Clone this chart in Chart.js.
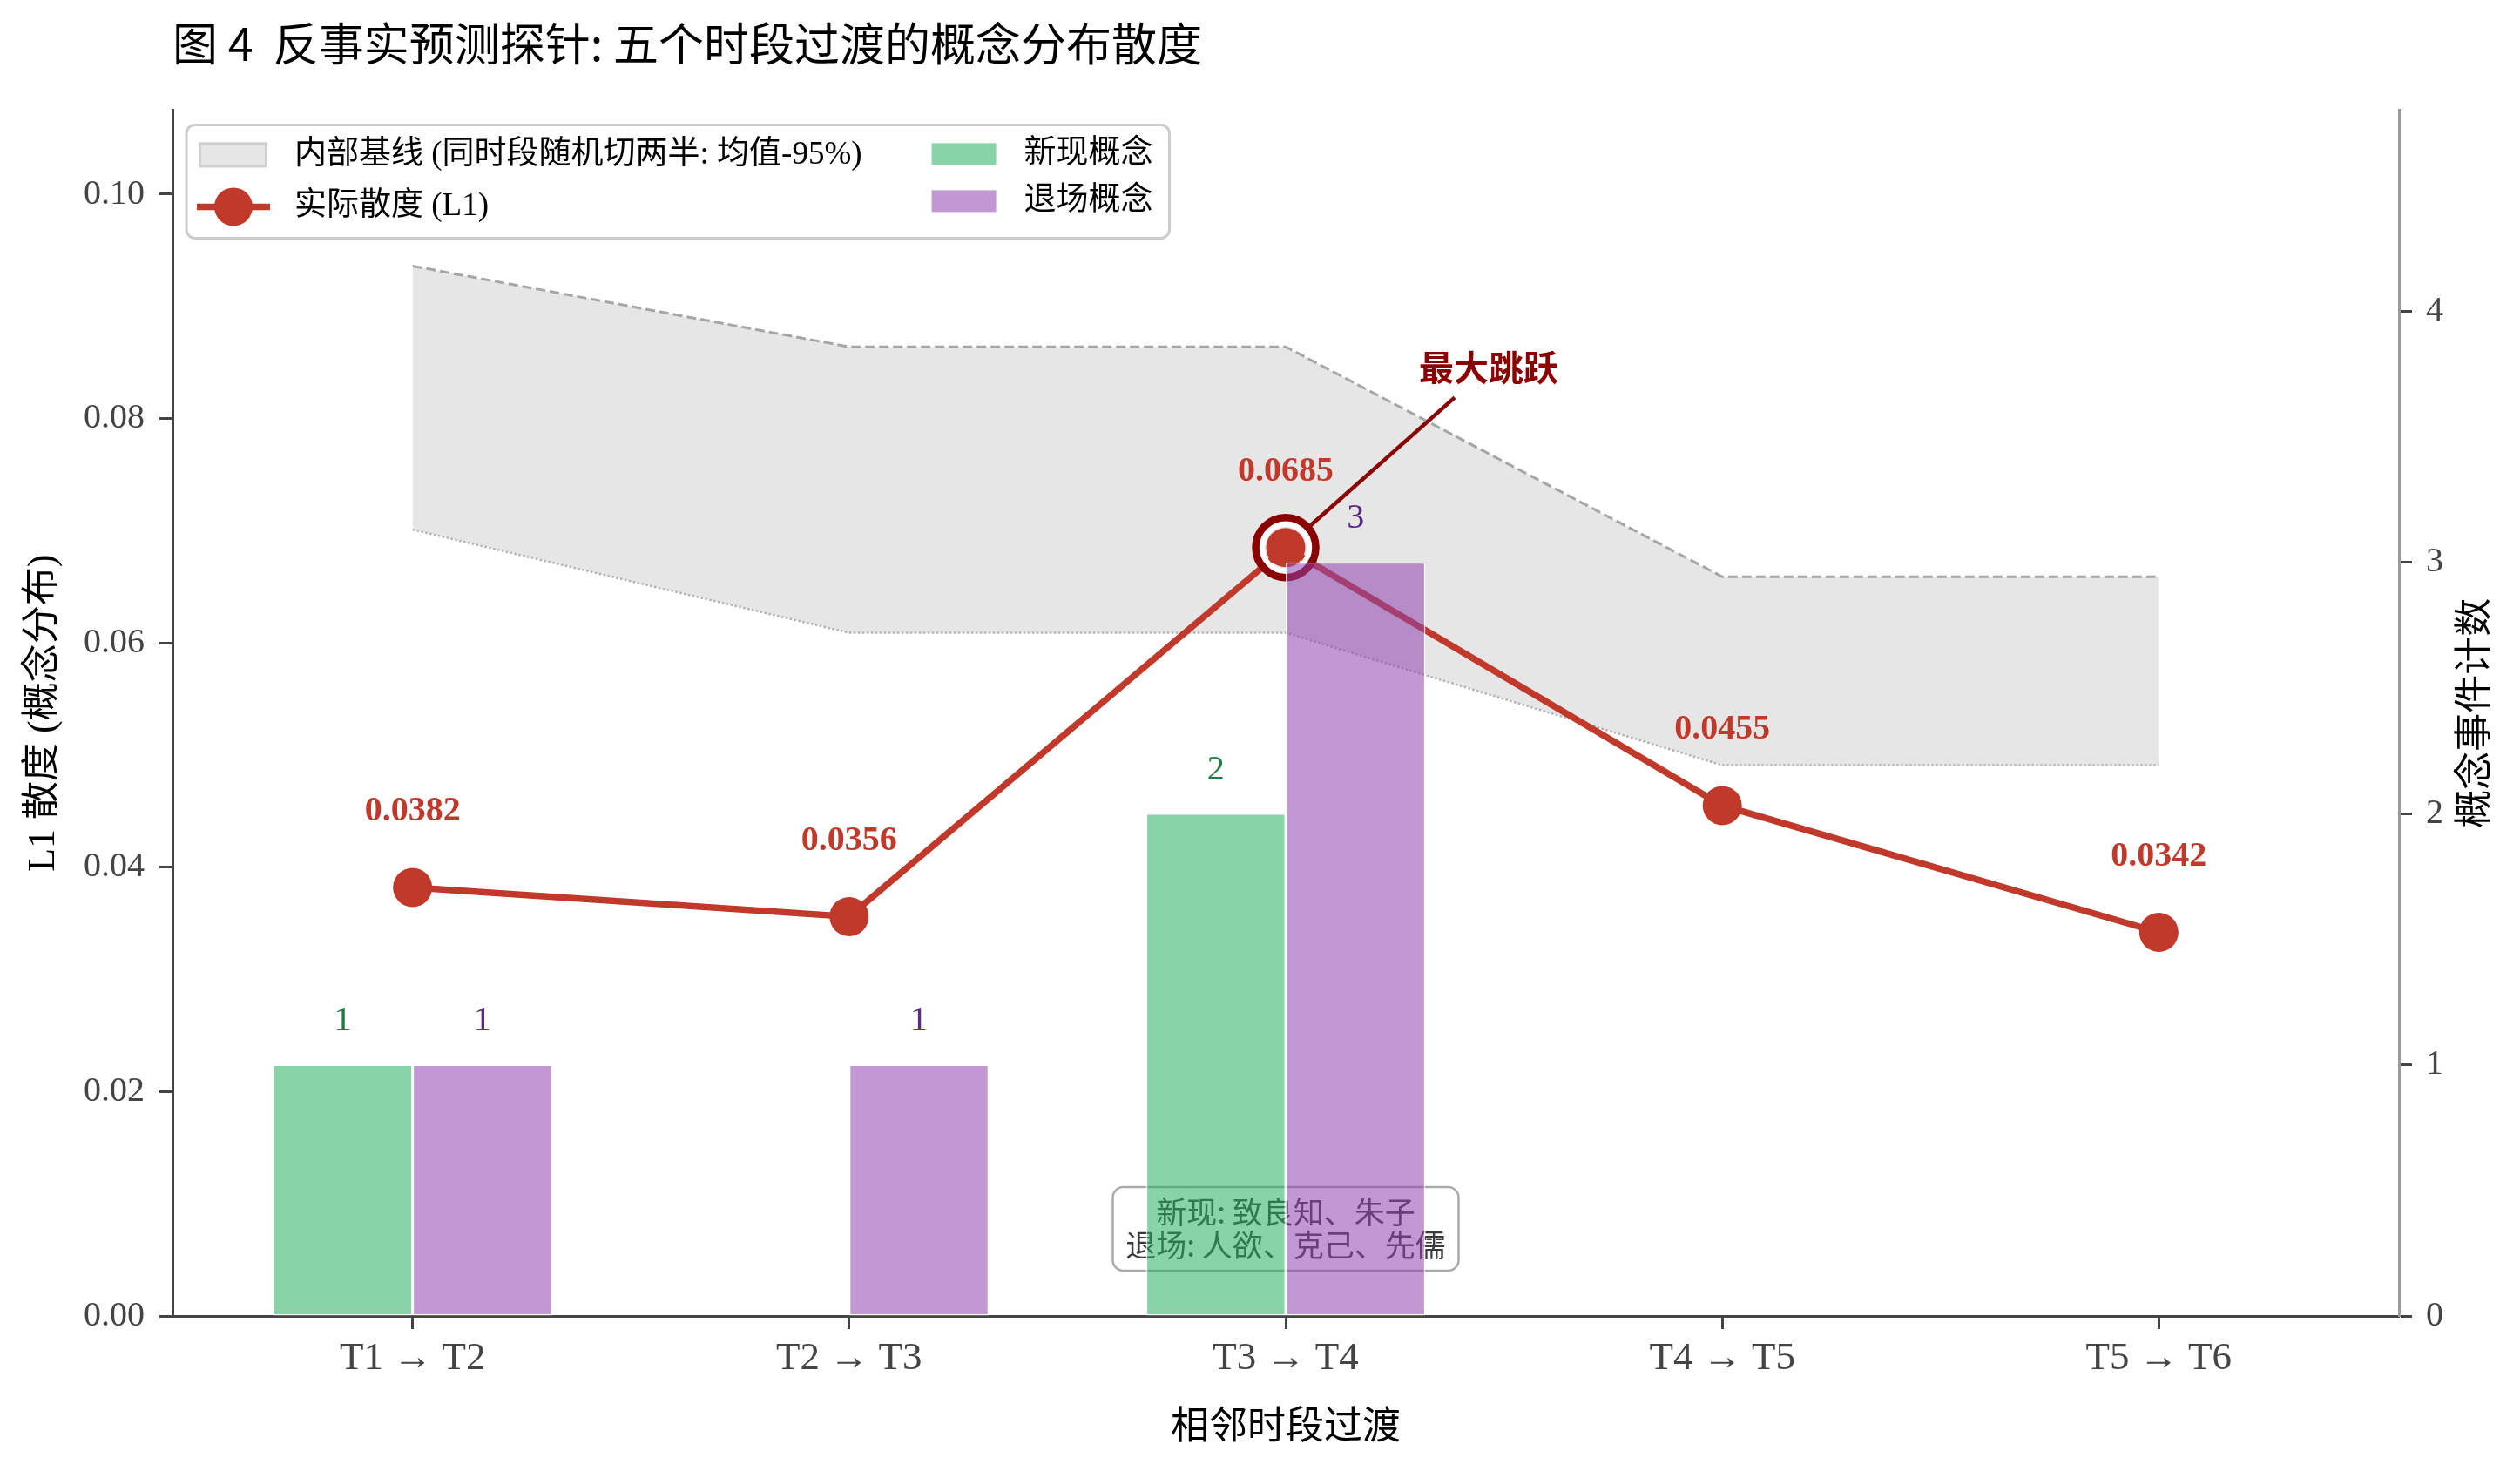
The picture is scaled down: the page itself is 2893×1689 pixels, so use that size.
<!DOCTYPE html>
<html>
<head>
<meta charset="utf-8">
<title>反事实预测探针</title>
<script src="https://cdn.jsdelivr.net/npm/chart.js@4.4.1/dist/chart.umd.min.js"></script>
<style>
  html, body { margin: 0; padding: 0; background: #fff; }
  #wrap { width: 2893px; height: 1689px; }
</style>
</head>
<body>
<div id="wrap"><canvas id="probeChart"></canvas></div>
<script>
const transitions = ['T1 → T2', 'T2 → T3', 'T3 → T4', 'T4 → T5', 'T5 → T6'];
const l1Divergence = [0.0382, 0.0356, 0.0685, 0.0455, 0.0342];
const baselineUpper = [0.0936, 0.0864, 0.0864, 0.0659, 0.0659];
const baselineLower = [0.0701, 0.0609, 0.0609, 0.0491, 0.0491];
const emergedCounts = [1, 0, 2, 0, 0];
const retiredCounts = [1, 1, 3, 0, 0];
const emergedNames = ['致良知', '朱子'];
const retiredNames = ['人欲', '克己', '先儒'];

const SERIF = "'Liberation Serif', 'DejaVu Serif', 'Noto Sans CJK SC', serif";
const CJK = "'Noto Sans CJK SC', sans-serif";
const RED = '#c0392b';
const DARKRED = '#8b0000';

const peakIdx = l1Divergence.indexOf(Math.max(...l1Divergence));
const xy = arr => arr.map((v, i) => ({x: i, y: v}));

// text box, ring, arrow, value labels, bar labels, legend
const overlay = {
  id: 'overlay',
  beforeDatasetsDraw(chart) {
    const c = chart.ctx, xs = chart.scales.x, area = chart.chartArea;
    const cx = xs.getPixelForValue(peakIdx), cy = area.bottom - 100;
    const w = 397, h = 96;
    c.save();
    c.beginPath();
    c.roundRect(cx - w / 2, cy - h / 2, w, h, 12);
    c.fillStyle = 'rgba(255,255,255,0.8)';
    c.fill();
    c.lineWidth = 2.5;
    c.strokeStyle = '#aaaaaa';
    c.stroke();
    c.font = '35px ' + CJK;
    c.fillStyle = '#3a3a3a';
    c.textAlign = 'center';
    c.textBaseline = 'middle';
    c.fillText('新现: ' + emergedNames.join('、'), cx, cy - 19);
    c.fillText('退场: ' + retiredNames.join('、'), cx, cy + 19);
    c.restore();
  },
  afterDatasetDraw(chart, args) {
    if (args.index !== 2) return;
    const c = chart.ctx, xs = chart.scales.x, ys = chart.scales.y;
    const pts = args.meta.data;
    c.save();
    c.font = 'bold 40px ' + SERIF;
    c.fillStyle = RED;
    c.textAlign = 'center';
    c.textBaseline = 'middle';
    pts.forEach((p, i) => c.fillText(l1Divergence[i].toFixed(4), p.x, p.y - 87));

    const p = pts[peakIdx];
    const tx = xs.getPixelForValue(peakIdx + 0.465), ty = ys.getPixelForValue(0.0846);
    const ex = tx - 39, ey = ty + 35;
    const len = Math.hypot(ex - p.x, ey - p.y);
    const ux = (ex - p.x) / len, uy = (ey - p.y) / len;
    c.beginPath();
    c.moveTo(p.x + ux * 30, p.y + uy * 30);
    c.lineTo(ex, ey);
    c.strokeStyle = DARKRED;
    c.lineWidth = 4.5;
    c.stroke();

    c.beginPath();
    c.arc(p.x, p.y, 27, 0, Math.PI * 2);
    c.strokeStyle = '#fff';
    c.lineWidth = 6;
    c.stroke();
    c.beginPath();
    c.arc(p.x, p.y, 34.5, 0, Math.PI * 2);
    c.strokeStyle = DARKRED;
    c.lineWidth = 8.5;
    c.stroke();

    c.font = 'bold 40px ' + CJK;
    c.fillStyle = DARKRED;
    c.fillText('最大跳跃', tx, ty);
    c.restore();
  },
  afterDatasetsDraw(chart) {
    const c = chart.ctx;
    c.save();
    c.font = '40px ' + SERIF;
    c.textAlign = 'center';
    c.textBaseline = 'middle';
    [[3, '#1e7b45'], [4, '#5b2c83']].forEach(([idx, col]) => {
      const vals = chart.data.datasets[idx].data;
      chart.getDatasetMeta(idx).data.forEach((bar, i) => {
        if (vals[i].y > 0) {
          c.fillStyle = col;
          c.fillText(String(vals[i].y), bar.x, bar.y - 50);
        }
      });
    });
    c.restore();
  },
  afterDraw(chart) {
    const c = chart.ctx, area = chart.chartArea, ds = chart.data.datasets;
    c.save();
    // right axis title
    c.translate(chart.width - 55, (area.top + area.bottom) / 2);
    c.rotate(-Math.PI / 2);
    c.font = '44px ' + CJK;
    c.fillStyle = '#000';
    c.textAlign = 'center';
    c.textBaseline = 'middle';
    c.fillText('概念事件计数', 0, 0);
    c.restore();

    // legend, two columns
    c.save();
    c.font = '37px ' + SERIF;
    const L = area.left + 16, T = area.top + 17;
    const col1Text = L + 124;
    const col2 = col1Text + c.measureText(ds[0].label).width + 80;
    const col2Text = col2 + 106;
    const R = col2Text + Math.max(c.measureText(ds[3].label).width, c.measureText(ds[4].label).width) + 19;
    c.beginPath();
    c.roundRect(L, T, R - L, 130, 10);
    c.fillStyle = 'rgba(255,255,255,0.8)';
    c.fill();
    c.lineWidth = 3;
    c.strokeStyle = '#cccccc';
    c.stroke();

    c.fillStyle = ds[0].backgroundColor;
    c.fillRect(L + 14, T + 20, 79, 29);
    c.strokeStyle = 'rgba(128,128,128,0.22)';
    c.lineWidth = 3;
    c.strokeRect(L + 15.5, T + 21.5, 76, 26);

    c.beginPath();
    c.moveTo(L + 12, T + 94);
    c.lineTo(L + 96, T + 94);
    c.strokeStyle = ds[2].borderColor;
    c.lineWidth = ds[2].borderWidth;
    c.stroke();
    c.beginPath();
    c.arc(L + 54, T + 94, 22, 0, Math.PI * 2);
    c.fillStyle = ds[2].pointBackgroundColor;
    c.fill();

    c.fillStyle = ds[3].backgroundColor;
    c.fillRect(col2, T + 21, 74, 25);
    c.fillStyle = ds[4].backgroundColor;
    c.fillRect(col2, T + 75, 74, 25);

    c.fillStyle = '#000';
    c.textAlign = 'left';
    c.textBaseline = 'middle';
    c.fillText(ds[0].label, col1Text, T + 35);
    c.fillText(ds[2].label, col1Text, T + 94);
    c.fillText(ds[3].label, col2Text, T + 34);
    c.fillText(ds[4].label, col2Text, T + 88);
    c.restore();
  }
};

const axisGrid = {display: true, drawOnChartArea: false, drawTicks: true, tickLength: 15, tickWidth: 3, tickColor: '#444', offset: false};

new Chart(document.getElementById('probeChart'), {
  type: 'bar',
  data: {
    datasets: [
      {
        type: 'line', label: '内部基线 (同时段随机切两半: 均值-95%)',
        data: xy(baselineUpper), yAxisID: 'y',
        borderColor: '#a6a6a6', borderWidth: 3, borderDash: [11, 5],
        pointRadius: 0, fill: '+1', backgroundColor: 'rgba(128,128,128,0.2)',
        order: 3
      },
      {
        type: 'line', label: '基线下界',
        data: xy(baselineLower), yAxisID: 'y',
        borderColor: '#b3b3b3', borderWidth: 2.5, borderDash: [2.5, 2.5],
        pointRadius: 0, fill: false,
        order: 2
      },
      {
        type: 'line', label: '实际散度 (L1)',
        data: xy(l1Divergence), yAxisID: 'y',
        borderColor: RED, borderWidth: 7.5,
        pointRadius: 22.5, pointHoverRadius: 22.5, pointBorderWidth: 0,
        pointBackgroundColor: RED, fill: false,
        order: 1
      },
      {
        type: 'bar', label: '新现概念',
        data: xy(emergedCounts), yAxisID: 'y1',
        backgroundColor: 'rgba(39,174,96,0.55)',
        borderColor: 'rgba(255,255,255,0.8)', borderWidth: 1.5, borderSkipped: false,
        categoryPercentage: 0.64, barPercentage: 1,
        order: 0
      },
      {
        type: 'bar', label: '退场概念',
        data: xy(retiredCounts), yAxisID: 'y1',
        backgroundColor: 'rgba(142,68,173,0.55)',
        borderColor: 'rgba(255,255,255,0.8)', borderWidth: 1.5, borderSkipped: false,
        categoryPercentage: 0.64, barPercentage: 1,
        order: 0
      }
    ]
  },
  options: {
    responsive: true,
    maintainAspectRatio: false,
    devicePixelRatio: 1,
    animation: false,
    layout: { padding: 0 },
    scales: {
      x: {
        type: 'linear', min: -0.55, max: 4.55, offset: false, z: 1,
        grid: axisGrid,
        border: { display: true, color: '#444', width: 3 },
        ticks: {
          stepSize: 1, includeBounds: false, autoSkip: false, maxRotation: 0,
          padding: 7, color: '#444', font: { family: SERIF, size: 45 },
          callback: v => Number.isInteger(v) ? transitions[v] : ''
        },
        title: { display: true, text: '相邻时段过渡', color: '#000', font: { family: CJK, size: 44 }, padding: { top: 0, bottom: 27 } },
        afterFit: s => { s.height = 178; }
      },
      y: {
        type: 'linear', position: 'left', min: 0, max: 0.1075,
        grid: axisGrid,
        border: { display: true, color: '#444', width: 3 },
        ticks: { stepSize: 0.02, includeBounds: false, padding: 17, color: '#444', font: { family: SERIF, size: 40 }, callback: v => v.toFixed(2) },
        title: { display: true, text: 'L1 散度 (概念分布)', color: '#000', font: { family: SERIF, size: 44 }, padding: { top: 24, bottom: 0 } },
        afterFit: s => { s.width = 198; }
      },
      y1: {
        type: 'linear', position: 'right', min: 0, max: 4.8,
        grid: axisGrid,
        border: { display: true, color: '#9a9a9a', width: 3 },
        ticks: { stepSize: 1, includeBounds: false, padding: 16, color: '#444', font: { family: SERIF, size: 40 } },
        afterFit: s => { s.width = 139; }
      }
    },
    plugins: {
      legend: { display: false },
      tooltip: { enabled: false },
      title: {
        display: true, align: 'start', fullSize: false,
        text: '图 4  反事实预测探针: 五个时段过渡的概念分布散度',
        color: '#000', font: { family: CJK, size: 52, weight: 'normal' },
        padding: { top: 19, bottom: 45 }
      }
    }
  },
  plugins: [overlay]
});
</script>
</body>
</html>
